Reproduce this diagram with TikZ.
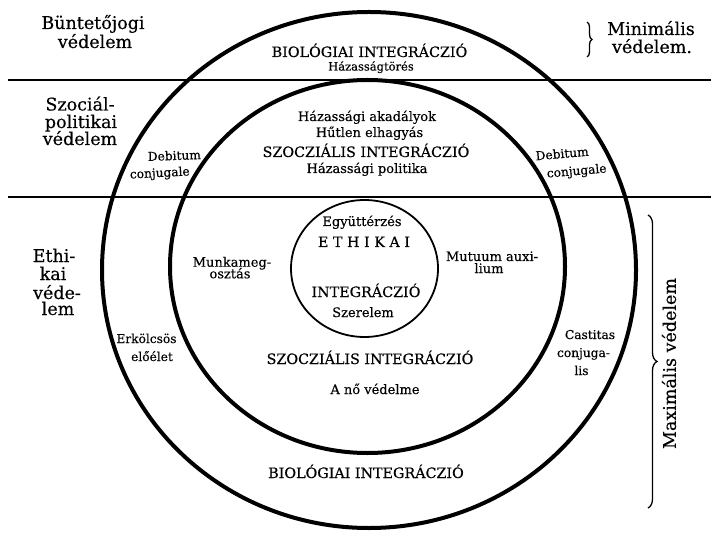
\documentclass[tikz,border=0pt]{standalone}
\usepackage{fontspec}
\setmainfont{DejaVu Serif}[FakeBold=0.35]
\usetikzlibrary{decorations.pathreplacing}
\tikzset{
  side/.style={font=\fontsize{17.5}{20}\selectfont, inner sep=0pt, anchor=base},
  caps/.style={font=\fontsize{14.3}{16}\selectfont, inner sep=0pt, anchor=base},
  lab/.style={font=\fontsize{13}{15}\selectfont, inner sep=0pt, anchor=base},
  tiny/.style={font=\fontsize{12.2}{14}\selectfont, inner sep=0pt, anchor=base},
  mini/.style={font=\fontsize{11.5}{13}\selectfont, inner sep=0pt, anchor=base},
  ring/.style={line width=4pt},
  innerring/.style={line width=1.8pt},
  band/.style={line width=2.2pt},
  bracestyle/.style={decorate, line width=1.3pt, decoration={brace, amplitude=#1}}
}
\begin{document}
\begin{tikzpicture}[x=1pt,y=-1pt]
\useasboundingbox (0,0) rectangle (711,534);
% rings
\draw[ring] (369,270) ellipse [x radius=267, y radius=258];
\draw[ring] (367.5,266.5) ellipse [x radius=197.5, y radius=186.5];
\draw[innerring] (364.5,268.5) ellipse [x radius=73.5, y radius=68.5];
% bands
\draw[band] (8,80) -- (711,80);
\draw[band] (8,197) -- (711,197);
% braces
\draw[bracestyle=5] (587,22) -- (587,57);
\draw[bracestyle=9] (648,215) -- (648,508);
% side labels
\node[side] (b1) at (93,29) {Büntetőjogi};
\node[side] (b2) at (95,48) {védelem};
\node[side] (m1) at (651,35) {Minimális};
\node[side] (m2) at (652,53) {védelem.};
\node[side] (s1) at (80,110.5) {Szociál-};
\node[side] (s2) at (81,128) {politikai};
\node[side] (s3) at (80,145) {védelem};
\node[side] (e1) at (54,262) {Ethi-};
\node[side] (e2) at (53,280) {kai};
\node[side] (e3) at (57,299) {véde-};
\node[side] (e4) at (58,315) {lem};
\node[side, anchor=center, rotate=90] (max) at (669,363.5) {Maximális védelem};
% top band
\node[caps] (bio1) at (369.5,57) {BIOLÓGIAI INTEGRÁCZIÓ};
\node[mini] (hzt) at (371,70.5) {Házasságtörés};
% social band
\node[lab] (ak) at (367,121) {Házassági akadályok};
\node[lab] (he) at (369.5,137) {Hűtlen elhagyás};
\node[caps] (szoc1) at (366,157) {SZOCZIÁLIS INTEGRÁCZIÓ};
\node[lab] (hp) at (367,173) {Házassági politika};
\node[tiny, rotate=2] (dl1) at (174.5,160) {Debitum};
\node[tiny, rotate=3] (dl2) at (160,177) {conjugale};
\node[tiny, rotate=5] (dr1) at (562.5,158) {Debitum};
\node[tiny, rotate=5] (dr2) at (577,175) {conjugale};
% inner circle
\node[lab] (egy) at (362,226) {Együttérzés};
\node[caps] (eth) at (364,247) {E T H I K A I};
\node[caps] (int) at (366,297) {INTEGRÁCZIÓ};
\node[lab] (szer) at (363,317) {Szerelem};
% middle ring
\node[lab] (mu1) at (232,266.7) {Munkameg-};
\node[lab] (mu2) at (230,278.3) {osztás};
\node[lab] (mt1) at (492,261) {Mutuum auxi-};
\node[lab] (mt2) at (489,273) {lium};
\node[caps] (szoc2) at (370,364) {SZOCZIÁLIS INTEGRÁCZIÓ};
\node[lab] (no) at (375,394) {A nő védelme};
% outer ring
\node[tiny] (er1) at (146.5,343) {Erkölcsös};
\node[tiny] (er2) at (152,361) {előélet};
\node[tiny] (ca1) at (590,339) {Castitas};
\node[tiny] (ca2) at (583.5,357) {conjuga-};
\node[tiny] (ca3) at (581.5,375) {lis};
\node[caps] (bio2) at (366,478) {BIOLÓGIAI INTEGRÁCZIÓ};
\end{tikzpicture}
\end{document}
